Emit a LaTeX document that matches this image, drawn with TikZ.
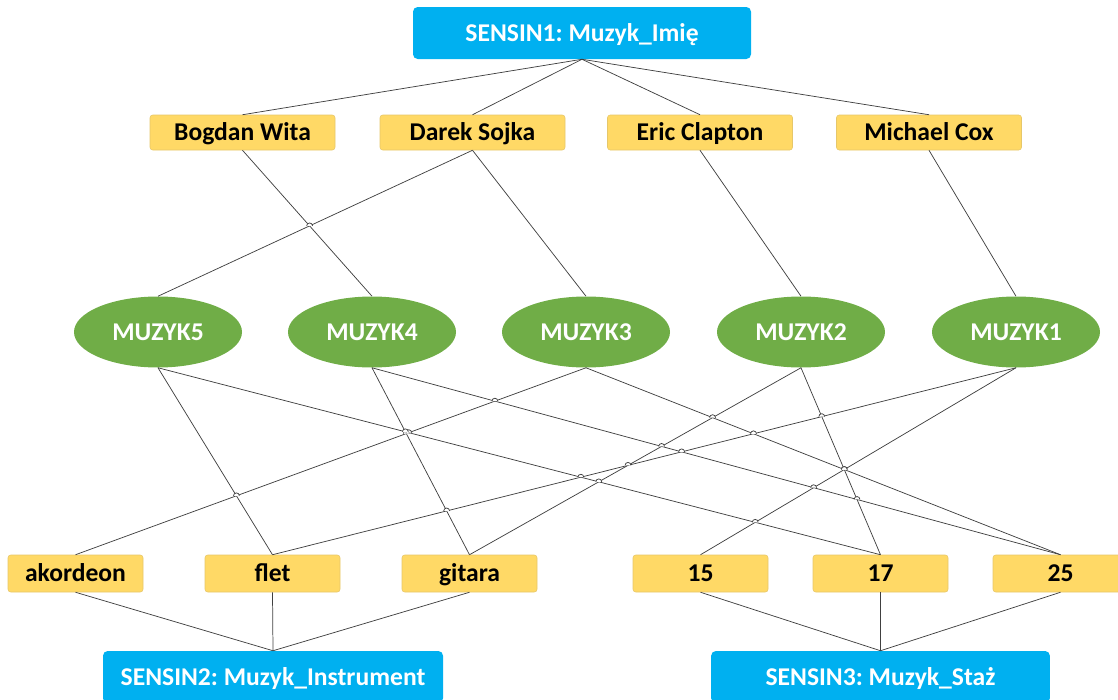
\documentclass[tikz,border=0pt]{standalone}
\usepackage{fontspec}
\setmainfont{Carlito}
\usetikzlibrary{shapes.geometric,intersections}
\definecolor{sensblue}{HTML}{00B0F0}
\definecolor{valyellow}{HTML}{FFD966}
\definecolor{valedge}{HTML}{E6C76A}
\definecolor{objgreen}{HTML}{70AD47}
\definecolor{linkgray}{HTML}{404040}
\frenchspacing
% small bump drawn where two connectors cross
\newcommand\linkhop[2]{%
  \path[name intersections={of=#1 and #2, by=hp}];
  \fill[white] (hp) ++(-2.2pt,0pt) arc[start angle=180, end angle=0, radius=2.2pt] -- cycle;
  \draw[link] (hp) ++(-2.2pt,0pt) arc[start angle=180, end angle=0, radius=2.2pt];
}
\begin{document}
\begin{tikzpicture}[x=0.75pt,y=-0.75pt,
  every node/.style={font=\fontsize{19.2}{23}\selectfont\bfseries, inner sep=0pt,
    text height=12.4pt, text depth=0pt},
  sensor/.style={rectangle, rounded corners=3.5pt, fill=sensblue, text=white,
    minimum width=253.5pt, minimum height=39pt},
  namebox/.style={rectangle, rounded corners=2pt, fill=valyellow, draw=valedge,
    line width=0.4pt, minimum width=138.75pt, minimum height=26.25pt},
  valbox/.style={rectangle, rounded corners=2pt, fill=valyellow, draw=valedge,
    line width=0.4pt, minimum width=101.25pt, minimum height=27.75pt},
  obj/.style={ellipse, fill=objgreen, text=white,
    minimum width=126pt, minimum height=53.25pt},
  link/.style={draw=linkgray, line width=0.55pt},
]
\useasboundingbox (0,0) rectangle (1118,700);
\clip (0,0) rectangle (1118,700);

% sensors
\node[sensor] (s1) at (582,33) {SENSIN1: Muzyk\_Imię};
\node[sensor, minimum width=255pt] (s2) at (273,677) {SENSIN2: Muzyk\_Instrument};
\node[sensor, minimum width=254pt] (s3) at (880.5,677) {SENSIN3: Muzyk\_Staż};

% names
\node[namebox] (bw) at (242.5,132.5) {Bogdan Wita};
\node[namebox] (ds) at (472.5,132.5) {Darek Sojka};
\node[namebox] (ec) at (700,132.5) {Eric Clapton};
\node[namebox] (mc) at (929,132.5) {Michael Cox};

% musicians
\node[obj] (m5) at (158,332) {MUZYK5};
\node[obj] (m4) at (372,332) {MUZYK4};
\node[obj] (m3) at (586,332) {MUZYK3};
\node[obj] (m2) at (801,332) {MUZYK2};
\node[obj] (m1) at (1016,332) {MUZYK1};

% instruments and years
\node[valbox] (akordeon) at (75.5,573.5) {akordeon};
\node[valbox] (flet) at (272.5,573.5) {flet};
\node[valbox] (gitara) at (469.5,573.5) {gitara};
\node[valbox] (v15) at (700.5,573.5) {15};
\node[valbox] (v17) at (880.5,573.5) {17};
\node[valbox] (v25) at (1060.5,573.5) {25};

% sensor 1 to names
\draw[link] (s1.south) -- (bw.north);
\draw[link] (s1.south) -- (ds.north);
\draw[link] (s1.south) -- (ec.north);
\draw[link] (s1.south) -- (mc.north);

% names to musicians
\draw[link, name path=bwm4] (bw.south) -- (m4.north);
\draw[link, name path=dsm5] (ds.south) -- (m5.north);
\draw[link] (ds.south) -- (m3.north);
\draw[link] (ec.south) -- (m2.north);
\draw[link] (mc.south) -- (m1.north);

% musicians to instruments and years
\draw[link, name path=la] (m5.south) -- (flet.north);
\draw[link, name path=lb] (m5.south) -- (v17.north);
\draw[link, name path=lc] (m4.south) -- (gitara.north);
\draw[link, name path=ld] (m4.south) -- (v25.north);
\draw[link, name path=le] (m3.south) -- (akordeon.north);
\draw[link, name path=lf] (m3.south) -- (v25.north);
\draw[link, name path=lg] (m2.south) -- (gitara.north);
\draw[link, name path=lh] (m2.south) -- (v17.north);
\draw[link, name path=li] (m1.south) -- (flet.north);
\draw[link, name path=lj] (m1.south) -- (v15.north);

% values to sensors 2 and 3
\draw[link] (akordeon.south) -- (s2.north);
\draw[link] (flet.south) -- (s2.north);
\draw[link] (gitara.south) -- (s2.north);
\draw[link] (v15.south) -- (s3.north);
\draw[link] (v17.south) -- (s3.north);
\draw[link] (v25.south) -- (s3.north);

% crossing bumps
\linkhop{dsm5}{bwm4}
\linkhop{le}{la}
\linkhop{le}{lc}
\linkhop{le}{lb}
\linkhop{le}{ld}
\linkhop{li}{lc}
\linkhop{li}{lg}
\linkhop{li}{lb}
\linkhop{li}{lh}
\linkhop{li}{ld}
\linkhop{li}{lf}
\linkhop{lc}{lb}
\linkhop{lg}{lb}
\linkhop{lg}{ld}
\linkhop{lg}{lf}
\linkhop{lj}{lb}
\linkhop{lj}{lh}
\linkhop{lj}{ld}
\linkhop{lj}{lf}
\linkhop{lh}{ld}
\linkhop{lh}{lf}
\end{tikzpicture}
\end{document}
